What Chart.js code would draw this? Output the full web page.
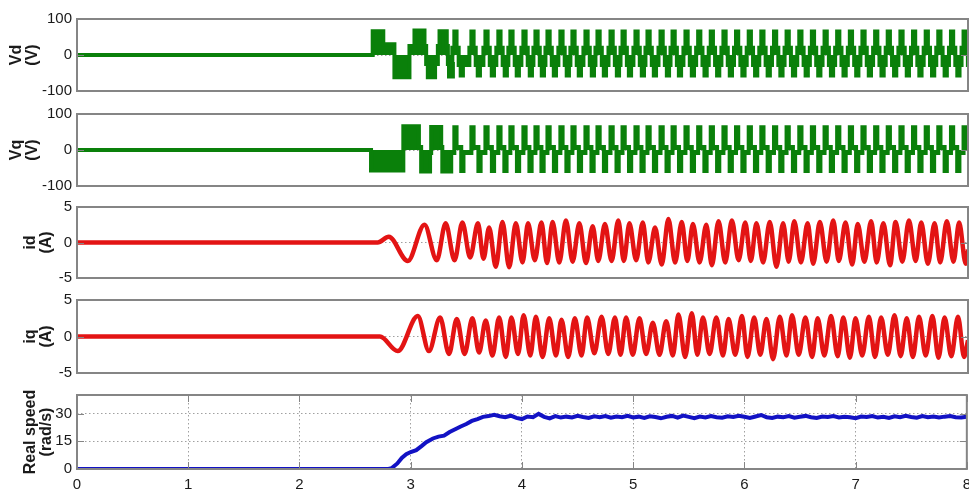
<!DOCTYPE html>
<html>
<head>
<meta charset="utf-8">
<title>Vd, Vq, id, iq and speed</title>
<script src="https://cdn.jsdelivr.net/npm/chart.js@4.4.1/dist/chart.umd.min.js"></script>
<style>
  html, body { margin: 0; padding: 0; background: #fff; overflow: hidden; }
  body { width: 969px; height: 493px; position: relative; }
  canvas { position: absolute; left: 0; }
</style>
</head>
<body>
<canvas id="vd"></canvas>
<canvas id="vq"></canvas>
<canvas id="id"></canvas>
<canvas id="iq"></canvas>
<canvas id="speed"></canvas>
<script>
// time axis (s)
const xTicks = [0, 1, 2, 3, 4, 5, 6, 7, 8];

// Vq (V): start-up switching, then one positive and one negative pulse per cycle
const vqStartT = [0, 2.64, 2.93, 3.07, 3.09, 3.17, 3.18, 3.27, 3.28, 3.36];
const vqStartV = [0, -57, 66, 8, -60, -8, 64, 8, -60, -8];
const vqUp = [3.398, 3.551, 3.677, 3.793, 3.901, 4.018, 4.126, 4.234, 4.350, 4.458,
  4.575, 4.683, 4.800, 4.908, 5.024, 5.132, 5.249, 5.357, 5.473, 5.587, 5.700,
  5.814, 5.927, 6.041, 6.154, 6.268, 6.381, 6.495, 6.608, 6.722, 6.835, 6.949,
  7.062, 7.176, 7.289, 7.403, 7.516, 7.630, 7.743, 7.857, 7.970];
const vqDn = [3.460, 3.614, 3.735, 3.847, 3.960, 4.072, 4.180, 4.292, 4.404, 4.516,
  4.629, 4.741, 4.854, 4.966, 5.078, 5.190, 5.303, 5.415, 5.530, 5.643, 5.757,
  5.870, 5.984, 6.097, 6.211, 6.324, 6.438, 6.551, 6.665, 6.778, 6.892, 7.005,
  7.119, 7.232, 7.346, 7.459, 7.573, 7.686, 7.800, 7.913];
const vqLevels = [63, 8, -58, -8]; // up pulse, rest, down pulse, rest

// Vd (V): start-up, then a stepped cycle on the same pulse times
const vdStartT = [0, 2.655, 2.75, 2.85, 2.985, 3.03, 3.12, 3.135, 3.15, 3.215, 3.24, 3.255, 3.32, 3.33, 3.34, 3.375];
const vdStartV = [0, 66, 30, -62, 25, 68, 25, -25, -62, -25, 25, 66, 25, -25, -60, -25];
const vdStep = [-0.028, -0.010, 0.010, 0.029, 0.047, 0.067];
const vdLevels = [20, 65, 20, -28, -57, -28];

// id (A): turning points
const idT = [0, 2.70, 2.80, 2.97, 3.12, 3.23, 3.31, 3.39, 3.46, 3.53, 3.60, 3.65, 3.70, 3.76,
  3.82, 3.88, 3.94, 4.00, 4.05, 4.11, 4.17, 4.22, 4.27, 4.33, 4.39, 4.45, 4.51, 4.57, 4.63,
  4.68, 4.74, 4.80, 4.86, 4.91, 4.96, 5.02, 5.08, 5.13, 5.19, 5.25, 5.31, 5.37, 5.43, 5.48,
  5.53, 5.59, 5.65, 5.70, 5.76, 5.82, 5.88, 5.94, 6.00, 6.05, 6.10, 6.16, 6.22, 6.28, 6.34,
  6.39, 6.44, 6.50, 6.56, 6.61, 6.67, 6.73, 6.79, 6.84, 6.90, 6.96, 7.01, 7.07, 7.13, 7.18,
  7.24, 7.30, 7.35, 7.41, 7.47, 7.53, 7.58, 7.64, 7.70, 7.75, 7.81, 7.87, 7.92, 7.98, 8.0];
const idV = [0, 0, 0.8, -2.6, 2.5, -2.5, 2.7, -2.5, 2.8, -2.1, 2.7, -2.3, 2.1, -3.4,
  2.9, -3.5, 2.7, -2.8, 2.7, -2.5, 2.8, -2.9, 2.9, -2.8, 3.1, -2.7, 2.7, -2.9, 2.3,
  -2.6, 2.6, -2.6, 3.1, -2.6, 2.7, -2.5, 2.8, -2.8, 2.1, -3.1, 3.3, -2.8, 2.9, -2.6,
  2.6, -2.8, 2.5, -3.2, 3.0, -2.8, 3.1, -2.5, 2.8, -2.6, 2.7, -2.8, 2.9, -3.4, 2.7,
  -2.7, 3.0, -2.8, 2.7, -3.0, 2.9, -2.7, 3.1, -2.6, 2.8, -3.1, 2.6, -2.7, 3.0, -2.8,
  2.7, -3.2, 2.9, -2.7, 3.1, -2.6, 2.8, -3.0, 2.7, -2.8, 3.0, -2.7, 2.8, -3.0, -1.0];

// iq (A): turning points
const iqT = [0, 2.72, 2.88, 3.06, 3.16, 3.26, 3.34, 3.41, 3.48, 3.55, 3.61, 3.67, 3.73, 3.79,
  3.85, 3.90, 3.96, 4.01, 4.07, 4.12, 4.18, 4.24, 4.30, 4.35, 4.41, 4.47, 4.53, 4.58, 4.645,
  4.71, 4.77, 4.83, 4.88, 4.93, 4.99, 5.05, 5.11, 5.17, 5.23, 5.29, 5.35, 5.40, 5.46, 5.52,
  5.57, 5.62, 5.68, 5.74, 5.80, 5.85, 5.91, 5.97, 6.02, 6.08, 6.135, 6.19, 6.25, 6.31, 6.37,
  6.42, 6.48, 6.54, 6.60, 6.65, 6.71, 6.77, 6.83, 6.88, 6.94, 6.99, 7.05, 7.11, 7.165, 7.22,
  7.28, 7.34, 7.395, 7.45, 7.505, 7.56, 7.62, 7.68, 7.735, 7.79, 7.85, 7.91, 7.965, 8.0];
const iqV = [0, 0, -2.0, 2.8, -2.0, 2.6, -2.4, 2.4, -2.4, 2.5, -2.2, 2.2, -2.6, 2.6,
  -2.8, 2.6, -2.4, 2.9, -2.6, 2.7, -2.8, 2.5, -2.6, 2.3, -2.8, 2.5, -2.6, 2.6, -2.3,
  2.7, -2.4, 2.6, -2.5, 2.6, -2.5, 2.5, -2.4, 1.9, -2.5, 2.1, -2.6, 3.0, -2.8, 3.2,
  -2.5, 2.6, -2.4, 2.6, -2.6, 2.4, -2.5, 2.8, -2.8, 2.6, -2.5, 2.4, -3.1, 2.7, -2.6,
  2.9, -2.5, 2.6, -2.8, 2.5, -2.6, 2.8, -2.7, 2.6, -2.9, 2.5, -2.6, 2.7, -2.8, 2.6,
  -2.5, 2.9, -2.7, 2.5, -2.8, 2.7, -2.6, 2.8, -2.9, 2.6, -2.7, 2.7, -2.8, -0.5];

// real speed (rad/s)
const speedT = [0, 2.80, 2.83, 2.88, 2.92, 2.96, 3.00, 3.05, 3.10, 3.14, 3.20, 3.25, 3.30, 3.35,
  3.40, 3.45, 3.50, 3.55, 3.60, 3.65, 3.70, 3.75, 3.80, 3.85, 3.90, 3.95, 4.00, 4.05, 4.10,
  4.15, 4.20, 4.25, 4.30, 4.35, 4.40, 4.45, 4.50, 4.55, 4.60, 4.65, 4.70, 4.75, 4.80, 4.85,
  4.90, 4.95, 5.00, 5.05, 5.10, 5.15, 5.20, 5.25, 5.30, 5.35, 5.40, 5.45, 5.50, 5.55, 5.60,
  5.65, 5.70, 5.75, 5.80, 5.85, 5.90, 5.95, 6.00, 6.05, 6.10, 6.15, 6.20, 6.25, 6.30, 6.35,
  6.40, 6.45, 6.50, 6.55, 6.60, 6.65, 6.70, 6.75, 6.80, 6.85, 6.90, 6.95, 7.00, 7.05, 7.10,
  7.15, 7.20, 7.25, 7.30, 7.35, 7.40, 7.45, 7.50, 7.55, 7.60, 7.65, 7.70, 7.75, 7.80, 7.85,
  7.90, 7.95, 8.00];
const speedV = [0, 0, 0.5, 3, 6, 8, 9.2, 10.2, 12.5, 14.5, 16.5, 17.5, 18, 20,
  21.5, 23, 24.3, 26, 27, 28.2, 28.6, 29.3, 28.5, 28.0, 28.8, 27.6, 27.0, 28.4, 28.0,
  29.8, 28.2, 27.4, 28.6, 27.8, 28.3, 27.9, 28.7, 28.1, 27.6, 28.5, 28.0, 28.6, 27.7, 28.4,
  28.0, 28.8, 27.9, 28.3, 27.6, 28.5, 28.1, 27.4, 28.2, 28.7, 27.8, 28.9, 28.2, 27.5, 28.4,
  27.9, 28.6, 28.0, 27.7, 28.5, 28.1, 28.8, 28.2, 27.6, 28.4, 29.2, 28.0, 27.6, 28.3, 28.0,
  28.6, 27.7, 28.2, 28.7, 28.0, 27.6, 28.4, 28.1, 28.6, 27.9, 28.3, 28.0, 27.5, 28.4, 28.1,
  28.6, 27.8, 28.2, 27.6, 28.5, 28.0, 28.7, 28.1, 27.7, 28.6, 28.0, 28.4, 27.8, 28.3, 28.6,
  28.0, 27.8, 28.2];

const zip = (t, v) => t.map((x, i) => ({ x, y: v[i] }));

const vqPts = zip(vqStartT, vqStartV);
vqUp.forEach((u, k) => {
  vqPts.push({ x: u - 0.010, y: vqLevels[0] }, { x: u + 0.010, y: vqLevels[1] });
  if (k < vqDn.length) {
    vqPts.push({ x: vqDn[k] - 0.010, y: vqLevels[2] }, { x: vqDn[k] + 0.010, y: vqLevels[3] });
  }
});
vqPts.push({ x: 8, y: vqLevels[1] });

const vdPts = zip(vdStartT, vdStartV);
vqUp.forEach(c => {
  vdStep.forEach((d, j) => vdPts.push({ x: c + d, y: vdLevels[j] }));
});

const tickFont = { family: "'Liberation Sans', Arial, sans-serif", size: 15 };
const titleFont = { family: "'Liberation Sans', Arial, sans-serif", size: 16, weight: 'bold', lineHeight: 1 };
const PAD = 12;
const GREEN = '#0a800a', RED = '#e31414', BLUE = '#1212c4';

// box round each panel plus MATLAB-style inner tick marks
const frame = {
  id: 'frame',
  afterDatasetsDraw(chart, args, o) {
    const { ctx, chartArea: a } = chart;
    const ys = chart.scales.y, xs = chart.scales.x;
    ctx.save();
    ctx.strokeStyle = '#858585';
    ctx.lineWidth = 1;
    ys.ticks.forEach(t => {
      const y = Math.round(ys.getPixelForValue(t.value)) + 0.5;
      ctx.beginPath();
      ctx.moveTo(a.left, y); ctx.lineTo(a.left + 7, y);
      ctx.moveTo(a.right, y); ctx.lineTo(a.right - 7, y);
      ctx.stroke();
    });
    if (o.xTicks) {
      xs.ticks.forEach(t => {
        const x = Math.round(xs.getPixelForValue(t.value)) + 0.5;
        ctx.beginPath();
        ctx.moveTo(x, a.bottom); ctx.lineTo(x, a.bottom - 7);
        ctx.moveTo(x, a.top); ctx.lineTo(x, a.top + 7);
        ctx.stroke();
      });
    }
    ctx.lineWidth = 2;
    ctx.strokeRect(a.left, a.top, a.right - a.left, a.bottom - a.top);
    ctx.restore();
  }
};

function makeChart(id, top, plotH, cfg) {
  const el = document.getElementById(id);
  const withX = !!cfg.xAxis;
  el.width = 978;
  el.height = plotH + PAD + (withX ? 24 : PAD);
  el.style.top = (top - PAD) + 'px';
  const xScale = {
    type: 'linear', min: 0, max: 8, display: withX,
    afterBuildTicks: s => { s.ticks = xTicks.map(v => ({ value: v })); },
    ticks: { font: tickFont, color: '#1a1a1a', padding: 7, maxRotation: 0 },
    grid: { color: c => (c.tick && c.tick.value > 0 && c.tick.value < 8) ? '#a0a0a0' : 'transparent', drawTicks: false },
    border: { display: false, dash: [1.5, 2.5] }
  };
  if (withX) xScale.afterFit = s => { s.height = 24; };
  return new Chart(el, {
    type: 'line',
    data: { datasets: cfg.datasets },
    options: {
      responsive: false,
      animation: false,
      events: [],
      parsing: false,
      layout: { padding: { top: PAD, bottom: withX ? 0 : PAD, left: 0, right: 10 } },
      elements: { point: { radius: 0 }, line: { tension: 0 } },
      plugins: { legend: { display: false }, tooltip: { enabled: false }, frame: { xTicks: withX } },
      scales: {
        x: xScale,
        y: {
          type: 'linear', min: cfg.yMin, max: cfg.yMax,
          afterBuildTicks: s => { s.ticks = cfg.yTicks.map(v => ({ value: v })); },
          afterFit: s => { s.width = 77; },
          ticks: { font: tickFont, color: '#1a1a1a', padding: 5 },
          grid: { color: c => (c.tick && cfg.yGrid.includes(c.tick.value)) ? '#a0a0a0' : 'transparent', drawTicks: false },
          border: { display: false, dash: [1.5, 2.5] },
          title: { display: true, text: cfg.title, font: titleFont, color: '#1a1a1a', padding: { top: cfg.titlePad, bottom: 0 } }
        }
      }
    },
    plugins: [frame]
  });
}

makeChart('vd', 17, 76, {
  yMin: -100, yMax: 100, yTicks: [-100, 0, 100], yGrid: [0], title: ['Vd', '(V)'], titlePad: 9,
  datasets: [{ data: vdPts, borderColor: GREEN, backgroundColor: GREEN, borderWidth: 4, stepped: true, fill: 'origin' }]
});
makeChart('vq', 112, 76, {
  yMin: -100, yMax: 100, yTicks: [-100, 0, 100], yGrid: [0], title: ['Vq', '(V)'], titlePad: 9,
  datasets: [{ data: vqPts, borderColor: GREEN, backgroundColor: GREEN, borderWidth: 4, stepped: true, fill: 'origin' }]
});
makeChart('id', 205, 75, {
  yMin: -5, yMax: 5, yTicks: [-5, 0, 5], yGrid: [0], title: ['id', '(A)'], titlePad: 23,
  datasets: [{ data: zip(idT, idV), borderColor: RED, borderWidth: 4.5, cubicInterpolationMode: 'monotone' }]
});
makeChart('iq', 298, 77, {
  yMin: -5, yMax: 5, yTicks: [-5, 0, 5], yGrid: [0], title: ['iq', '(A)'], titlePad: 23,
  datasets: [{ data: zip(iqT, iqV), borderColor: RED, borderWidth: 4.5, cubicInterpolationMode: 'monotone' }]
});
makeChart('speed', 393, 76, {
  xAxis: true,
  yMin: 0, yMax: 40, yTicks: [0, 15, 30], yGrid: [15, 30], title: ['Real speed', '(rad/s)'], titlePad: 23,
  datasets: [{ data: zip(speedT, speedV), borderColor: BLUE, borderWidth: 4 }]
});
</script>
</body>
</html>
